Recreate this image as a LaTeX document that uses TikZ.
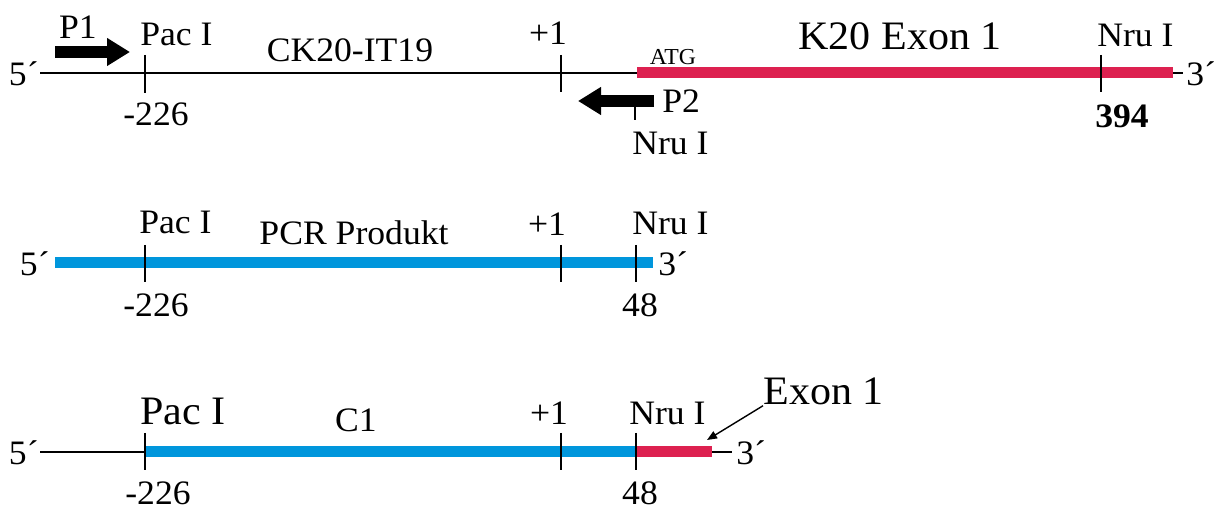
\documentclass[tikz,border=0pt]{standalone}
\usepackage{fontspec}
\setmainfont{Liberation Serif}
\newfontfamily\lblfont{Liberation Serif}[FakeStretch=1.04]
\usetikzlibrary{arrows.meta,positioning}
\definecolor{exonred}{RGB}{221,33,80}
\definecolor{pcrblue}{RGB}{0,150,220}

\begin{document}
\begin{tikzpicture}[x=0.02cm, y=-0.02cm,
        lbl/.style={inner sep=0pt, font=\lblfont\fontsize{19.5}{19.5}\selectfont},
        big/.style={inner sep=0pt, font=\lblfont\fontsize{23}{23}\selectfont},
        tiny/.style={inner sep=0pt, font=\lblfont\fontsize{13}{13}\selectfont},
        dna/.style={line width=0.9pt},
        cut/.style={line width=0.9pt},
        redbar/.style={line width=0.22cm, exonred},
        bluebar/.style={line width=0.22cm, pcrblue},
        primer/.style={line width=0.23cm, -{Triangle[length=0.46cm, width=0.53cm]}},
        pointer/.style={line width=0.8pt, -{Triangle[length=0.2cm, width=0.16cm]}}
    ]
        \useasboundingbox (0,0) rectangle (1227,509);
        \coordinate (a5) at (40,73);
        \coordinate (atg) at (637,73);
        \coordinate (e3) at (1173,73);
        \coordinate (a3) at (1183,73);
        \draw[dna] (a5) -- (atg);
        \draw[redbar] (atg) -- (e3);
        \draw[dna] (e3) -- (a3);
        \node[lbl, anchor=east] (f5a) at (39,74) {5´};
        \node[lbl, anchor=west] (f3a) at (1186,74) {3´};
        \draw[cut] (145,55) -- (145,93);
        \draw[cut] (561,55) -- (561,92);
        \draw[cut] (1101,55) -- (1101,92);
        \draw[cut] (635,104) -- (635,120);
        \coordinate (p1s) at (55,52);
        \coordinate (p1e) at (130,52);
        \draw[primer] (p1s) -- (p1e);
        \coordinate (p2s) at (654,101);
        \coordinate (p2e) at (578,101);
        \draw[primer] (p2s) -- (p2e);
        \node[lbl, anchor=base] (p1) at (78,39) {P1};
        \node[lbl, anchor=base west] (pac1) at (140,46) {Pac I};
        \node[lbl, anchor=base] (ck) at (350,62) {CK20-IT19};
        \node[lbl, anchor=base] (plus1) at (548,45) {+1};
        \node[tiny, anchor=base] (atgl) at (673,65) {ATG};
        \node[big, anchor=base] (k20) at (900,50) {K20 Exon 1};
        \node[lbl, anchor=base west] (nru1) at (1097,47) {Nru I};
        \node[lbl, anchor=base] (m226a) at (156,126) {-226};
        \node[lbl, anchor=base, font=\lblfont\fontsize{19.5}{19.5}\selectfont\bfseries] (p394) at (1122,128) {394};
        \node[lbl, anchor=base west] (p2) at (662,113) {P2};
        \node[lbl, anchor=base west] (nru2) at (632,155) {Nru I};

        \coordinate (b5) at (55,263);
        \coordinate (b3) at (653,263);
        \draw[bluebar] (b5) -- (b3);
        \node[lbl, anchor=east] (f5b) at (50,264) {5´};
        \node[lbl, anchor=west] (f3b) at (658,264) {3´};
        \draw[cut] (145,245) -- (145,282);
        \draw[cut] (561,245) -- (561,282);
        \draw[cut] (636,245) -- (636,282);
        \node[lbl, anchor=base west] (pac2) at (139,234) {Pac I};
        \node[lbl, anchor=base] (pcr) at (354,245) {PCR Produkt};
        \node[lbl, anchor=base] (plus2) at (547,236) {+1};
        \node[lbl, anchor=base west] (nru3) at (632,235) {Nru I};
        \node[lbl, anchor=base] (m226b) at (156,317) {-226};
        \node[lbl, anchor=base] (n48b) at (640,317) {48};

        \coordinate (c5) at (40,452);
        \coordinate (cpac) at (145,452);
        \coordinate (cnru) at (636,452);
        \coordinate (cex) at (712,452);
        \coordinate (c3) at (732,452);
        \draw[dna] (c5) -- (cpac);
        \draw[bluebar] (cpac) -- (cnru);
        \draw[redbar] (cnru) -- (cex);
        \draw[dna] (cex) -- (c3);
        \node[lbl, anchor=east] (f5c) at (39,453) {5´};
        \node[lbl, anchor=west] (f3c) at (736,453) {3´};
        \draw[cut] (145,433) -- (145,470);
        \draw[cut] (561,433) -- (561,470);
        \draw[cut] (636,433) -- (636,470);
        \node[big, anchor=base west] (pac3) at (140,425) {Pac I};
        \node[lbl, anchor=base] (c1) at (356,432) {C1};
        \node[lbl, anchor=base] (plus3) at (549,425) {+1};
        \node[lbl, anchor=base west] (nru4) at (629,425) {Nru I};
        \node[big, anchor=base west] (exon) at (763,405) {Exon 1};
        \coordinate (exin) at (707,440);
        \draw[pointer] (exon.south west) -- (exin);
        \node[lbl, anchor=base] (m226c) at (158,504) {-226};
        \node[lbl, anchor=base] (n48c) at (640,504) {48};
    \end{tikzpicture}
\end{document}
